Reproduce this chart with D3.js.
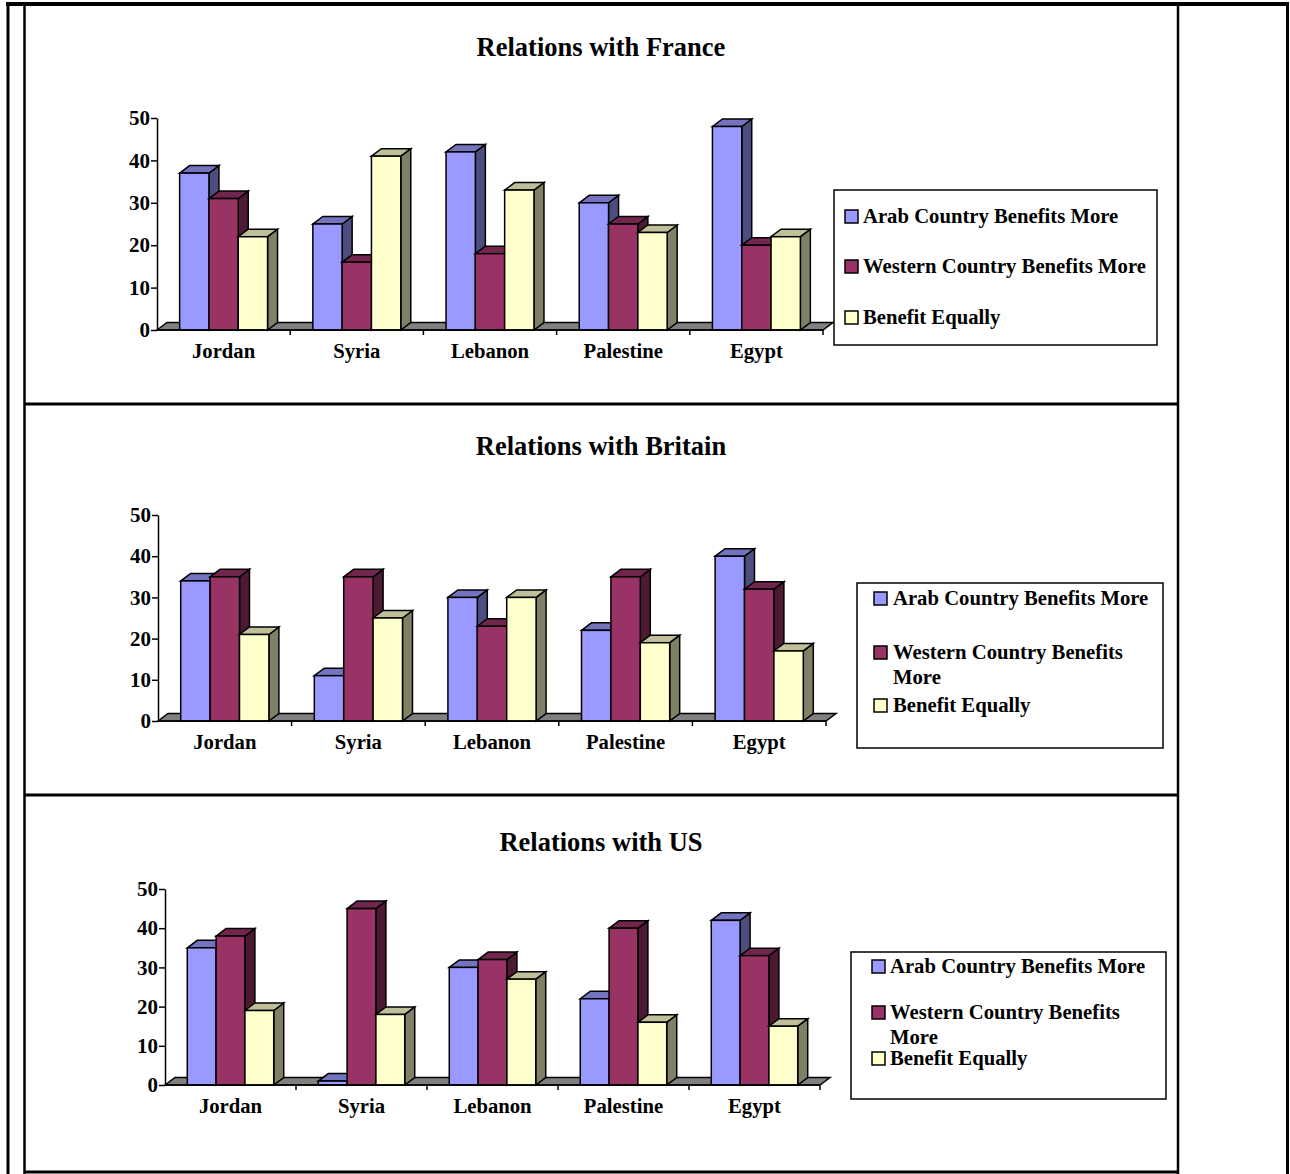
<!DOCTYPE html>
<html>
<head>
<meta charset="utf-8">
<script src="https://cdn.jsdelivr.net/npm/d3@7"></script>
<style>
  html, body { margin: 0; padding: 0; background: #fff; }
  svg { display: block; }
  text { font-family: "Liberation Serif", "Times New Roman", serif; font-weight: bold; fill: #000; }
</style>
</head>
<body>
<svg id="chart" width="1290" height="1174"></svg>
<script>
// Survey answers by country, one array per series and partner country
const countries = ["Jordan", "Syria", "Lebanon", "Palestine", "Egypt"];
const seriesNames = ["Arab Country Benefits More", "Western Country Benefits More", "Benefit Equally"];
const yTicks = [0, 10, 20, 30, 40, 50];

const franceArab    = [37, 25, 42, 30, 48];
const franceWestern = [31, 16, 18, 25, 20];
const franceEqual   = [22, 41, 33, 23, 22];

const britainArab    = [34, 11, 30, 22, 40];
const britainWestern = [35, 35, 23, 35, 32];
const britainEqual   = [21, 25, 30, 19, 17];

const usArab    = [35, 1, 30, 22, 42];
const usWestern = [38, 45, 32, 40, 33];
const usEqual   = [19, 18, 27, 16, 15];

const titles = ["Relations with France", "Relations with Britain", "Relations with US"];

// Face colours: front, top, side for each series
const faces = [
  { front: "#9999ff", top: "#7373bf", side: "#4d4d80" },
  { front: "#993366", top: "#73264d", side: "#4d1a33" },
  { front: "#ffffcc", top: "#bfbf99", side: "#808066" }
];

const svg = d3.select("#chart");
svg.append("rect").attr("width", 1290).attr("height", 1174).attr("fill", "#fff");

// Page frame lines
const frame = svg.append("g").attr("stroke", "#000").attr("fill", "none");
frame.append("line").attr("x1", 6).attr("x2", 1289).attr("y1", 4).attr("y2", 4).attr("stroke-width", 4);
frame.append("line").attr("x1", 8).attr("x2", 8).attr("y1", 2).attr("y2", 1174).attr("stroke-width", 3);
frame.append("line").attr("x1", 24.5).attr("x2", 24.5).attr("y1", 4).attr("y2", 1174).attr("stroke-width", 2.5);
frame.append("line").attr("x1", 1178).attr("x2", 1178).attr("y1", 4).attr("y2", 1174).attr("stroke-width", 2.5);
frame.append("line").attr("x1", 1287.5).attr("x2", 1287.5).attr("y1", 2).attr("y2", 1174).attr("stroke-width", 3);
[404, 795, 1172].forEach(yy => {
  frame.append("line").attr("x1", 24).attr("x2", 1179).attr("y1", yy).attr("y2", yy).attr("stroke-width", 3);
});

const panels = [
  { title: titles[0], titleY: 56, values: [franceArab, franceWestern, franceEqual],
    x0: 157, x1: 823, y0: 330, yTop: 118,
    legend: { x: 834, y: 190, w: 323, h: 155, sx: 845, tx: 863,
      rows: [ { s: 0, lines: [seriesNames[0]], y: 223 },
              { s: 1, lines: [seriesNames[1]], y: 273 },
              { s: 2, lines: [seriesNames[2]], y: 324 } ] } },
  { title: titles[1], titleY: 455, values: [britainArab, britainWestern, britainEqual],
    x0: 158, x1: 826, y0: 721, yTop: 515,
    legend: { x: 857, y: 583, w: 306, h: 165, sx: 874, tx: 893,
      rows: [ { s: 0, lines: [seriesNames[0]], y: 605 },
              { s: 1, lines: ["Western Country Benefits", "More"], y: 659, lh: 25 },
              { s: 2, lines: [seriesNames[2]], y: 712 } ] } },
  { title: titles[2], titleY: 851, values: [usArab, usWestern, usEqual],
    x0: 165, x1: 820, y0: 1085, yTop: 889,
    legend: { x: 851, y: 952, w: 315, h: 147, sx: 872, tx: 890,
      rows: [ { s: 0, lines: [seriesNames[0]], y: 973 },
              { s: 1, lines: ["Western Country Benefits", "More"], y: 1019, lh: 25 },
              { s: 2, lines: [seriesNames[2]], y: 1065 } ] } }
];

const depthX = 10, depthY = 7.5;

panels.forEach(p => {
  const g = svg.append("g");

  g.append("text")
    .attr("x", 601).attr("y", p.titleY)
    .attr("text-anchor", "middle")
    .style("font-size", "26.5px")
    .text(p.title);

  const x = d3.scaleBand().domain(countries).range([p.x0, p.x1]);
  const groupW = x.bandwidth() * 0.66;
  const xs = d3.scaleBand().domain(d3.range(seriesNames.length)).range([0, groupW]);
  const y = d3.scaleLinear().domain([0, 50]).range([p.y0, p.yTop]);

  // Floor of the 3-D plot
  g.append("polygon")
    .attr("points", [
      [p.x0, p.y0], [p.x0 + depthX, p.y0 - depthY],
      [p.x1 + depthX, p.y0 - depthY], [p.x1, p.y0]
    ].map(d => d.join(",")).join(" "))
    .attr("fill", "#808080").attr("stroke", "#000").attr("stroke-width", 1.5);

  // Bars: front, top and side faces
  countries.forEach((c, ci) => {
    const gx = x(c) + (x.bandwidth() - groupW) / 2;
    p.values.forEach((vals, si) => {
      const v = vals[ci];
      const bx = gx + xs(si), bw = xs.bandwidth();
      const yt = y(v), yb = y(0);
      const bar = g.append("g").attr("stroke", "#000").attr("stroke-width", 1.5).attr("stroke-linejoin", "miter");
      bar.append("polygon")
        .attr("points", [[bx + bw, yt], [bx + bw + depthX, yt - depthY], [bx + bw + depthX, yb - depthY], [bx + bw, yb]]
          .map(d => d.join(",")).join(" "))
        .attr("fill", faces[si].side);
      bar.append("polygon")
        .attr("points", [[bx, yt], [bx + depthX, yt - depthY], [bx + bw + depthX, yt - depthY], [bx + bw, yt]]
          .map(d => d.join(",")).join(" "))
        .attr("fill", faces[si].top);
      bar.append("rect")
        .attr("x", bx).attr("y", yt).attr("width", bw).attr("height", yb - yt)
        .attr("fill", faces[si].front);
    });
  });

  // Value axis
  const yAxis = d3.axisLeft(y).tickValues(yTicks).tickSize(6).tickSizeOuter(0).tickPadding(1).tickFormat(d3.format("d"));
  const ya = g.append("g").attr("transform", `translate(${p.x0},0)`).call(yAxis);
  ya.selectAll("path, line").attr("stroke", "#000").attr("stroke-width", 1.5);
  ya.selectAll("text").style("font-size", "21px").style("font-family", "Liberation Serif").style("font-weight", "bold");

  // Category axis: baseline, boundary ticks, labels
  g.append("line").attr("x1", p.x0).attr("x2", p.x1).attr("y1", p.y0).attr("y2", p.y0)
    .attr("stroke", "#000").attr("stroke-width", 1.5);
  countries.forEach(c => {
    const bx = x(c) + x.bandwidth();
    g.append("line").attr("x1", bx).attr("x2", bx).attr("y1", p.y0).attr("y2", p.y0 + 5)
      .attr("stroke", "#000").attr("stroke-width", 1.5);
  });
  const xa = d3.axisBottom(x).tickSize(0).tickPadding(0);
  const xg = g.append("g").attr("transform", `translate(0,${p.y0})`).call(xa);
  xg.select(".domain").remove();
  xg.selectAll("text")
    .attr("dy", null).attr("y", 28)
    .style("font-size", "20.7px").style("font-family", "Liberation Serif").style("font-weight", "bold");

  // Legend
  const L = p.legend;
  const lg = g.append("g");
  lg.append("rect").attr("x", L.x).attr("y", L.y).attr("width", L.w).attr("height", L.h)
    .attr("fill", "#fff").attr("stroke", "#000").attr("stroke-width", 1.5);
  L.rows.forEach(r => {
    lg.append("rect").attr("x", L.sx).attr("y", r.y - 13).attr("width", 13).attr("height", 13)
      .attr("fill", faces[r.s].front).attr("stroke", "#000").attr("stroke-width", 1.5);
    r.lines.forEach((t, li) => {
      lg.append("text").attr("x", L.tx).attr("y", r.y + li * (r.lh || 0))
        .style("font-size", "20.7px").text(t);
    });
  });
});
</script>
</body>
</html>
